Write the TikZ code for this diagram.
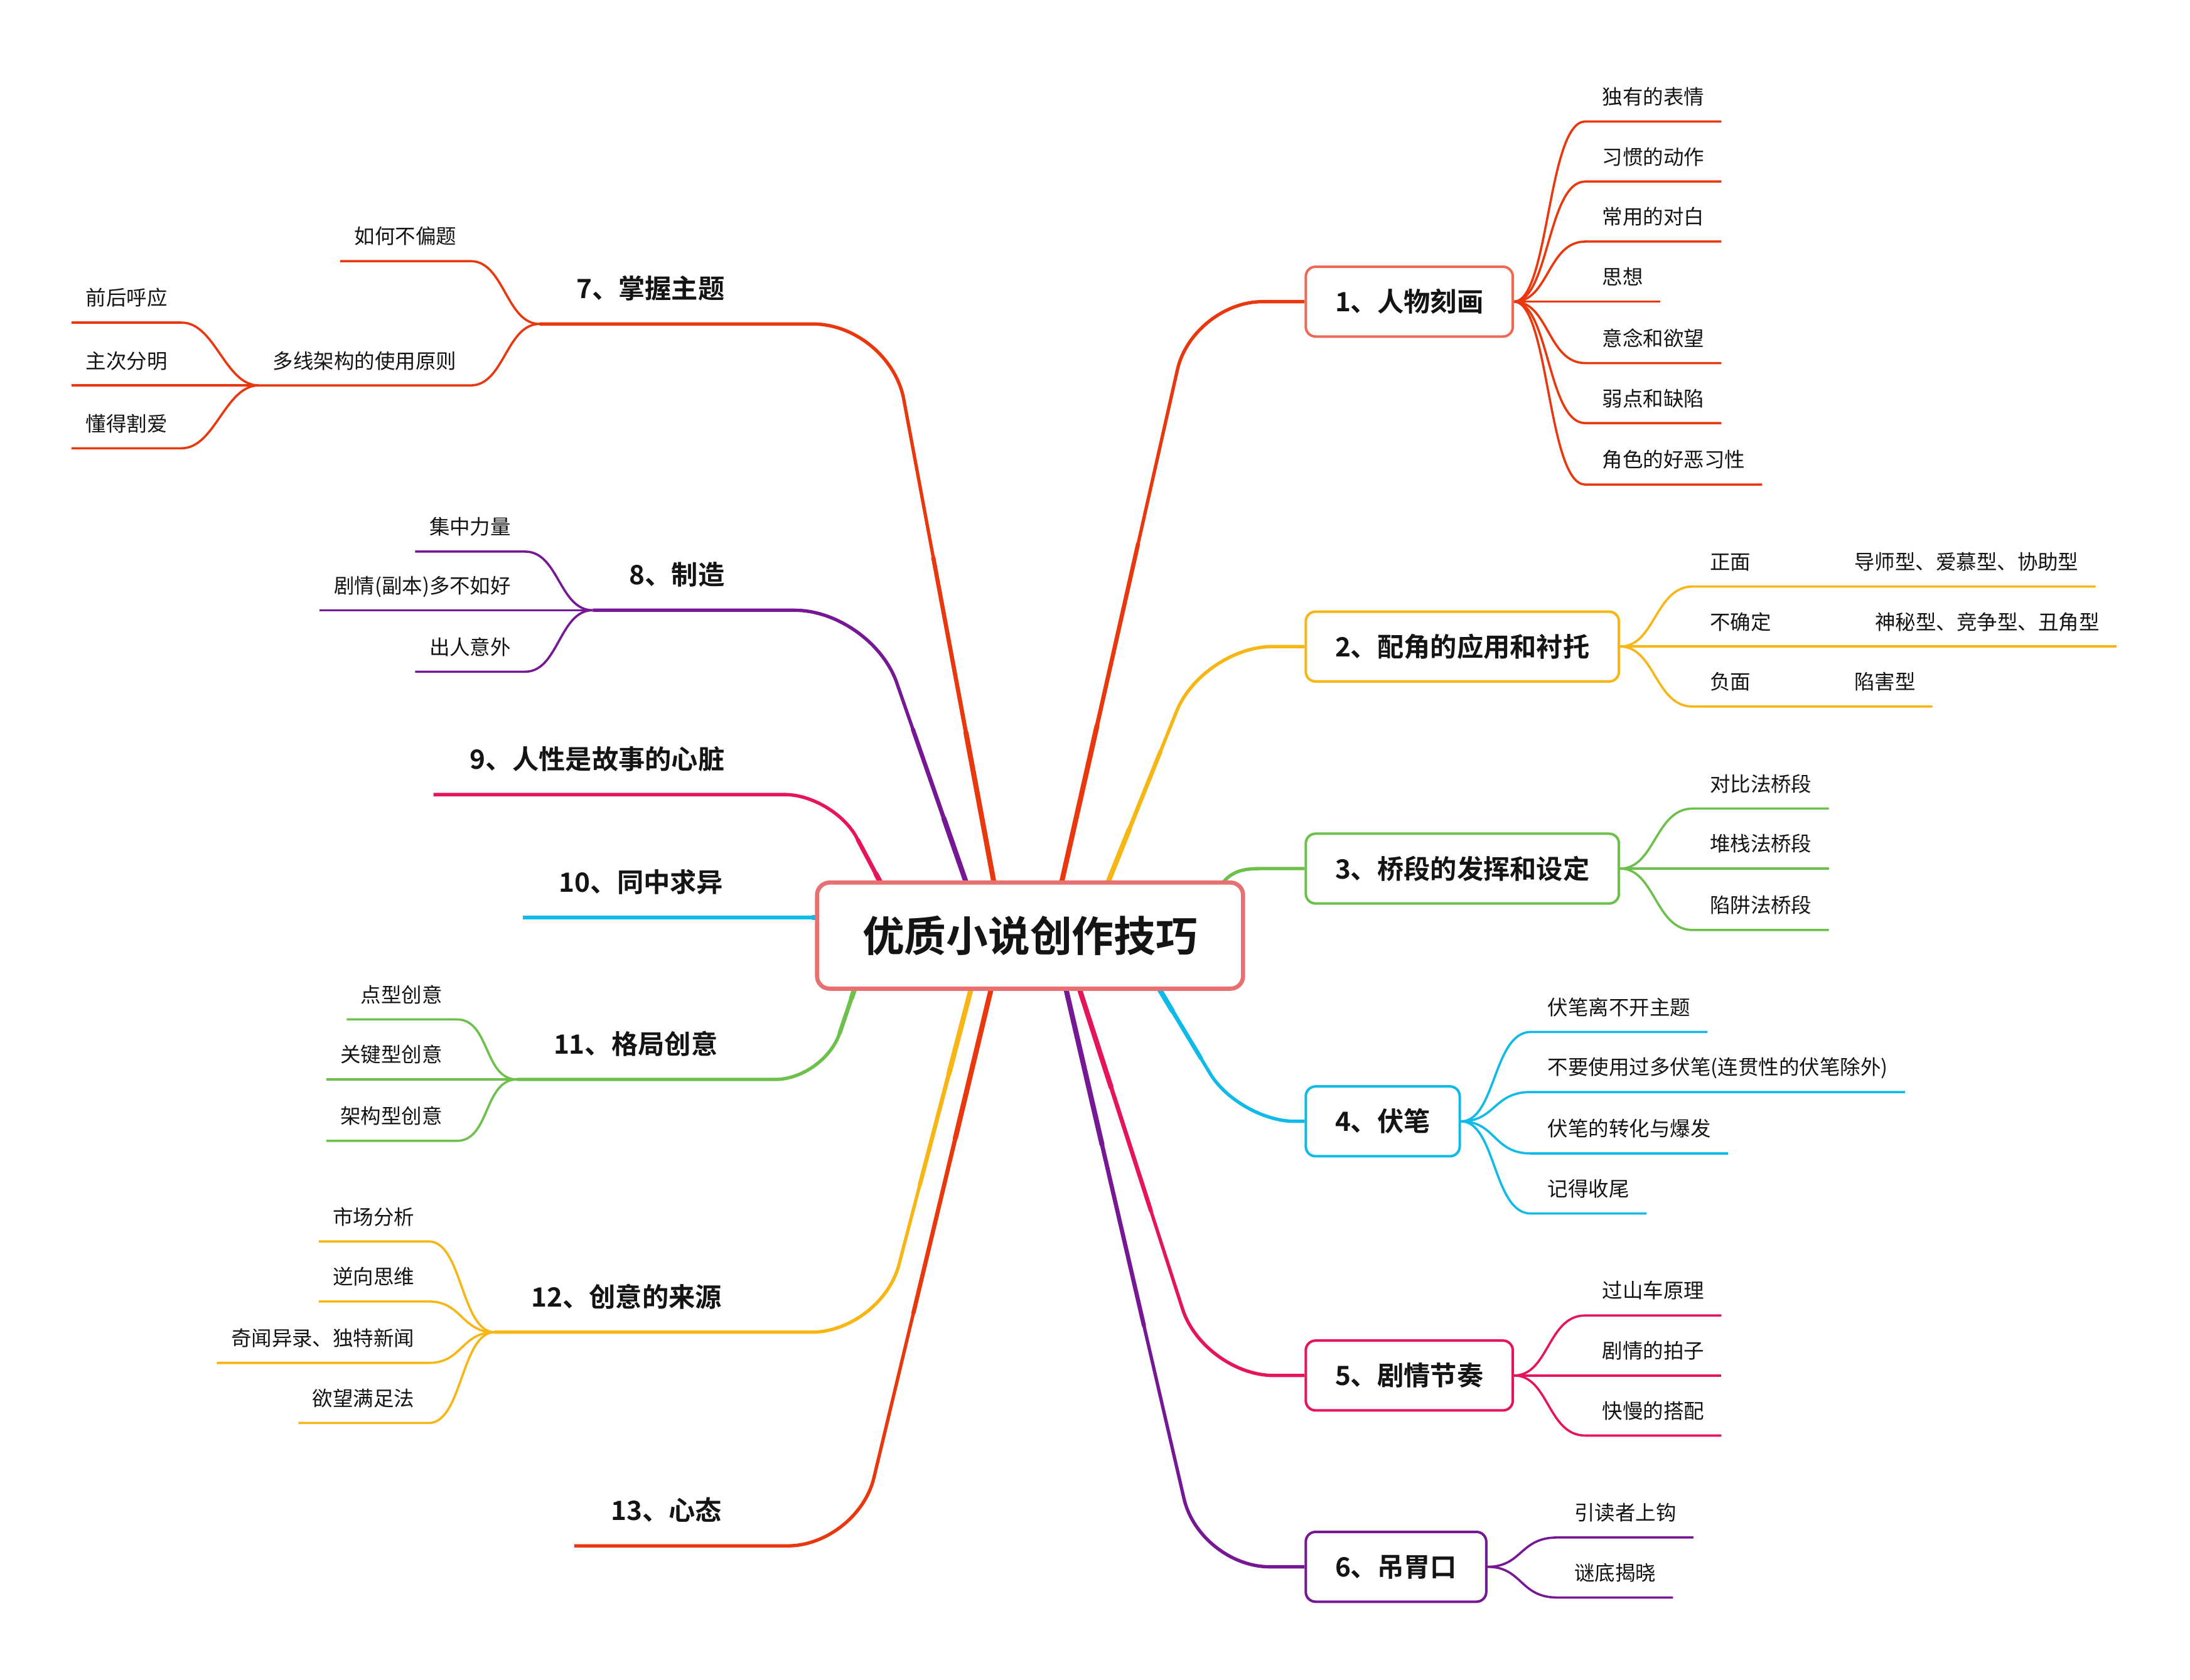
\documentclass[tikz,border=0pt]{standalone}
\usepackage{fontspec}
\setmainfont{Noto Sans CJK SC}[BoldFont={Noto Sans CJK SC Bold}]
\usetikzlibrary{backgrounds,calc}
\definecolor{cred}{RGB}{233,56,14}
\definecolor{credbox}{RGB}{238,104,86}
\definecolor{cyel}{RGB}{247,182,20}
\definecolor{cgrn}{RGB}{108,192,75}
\definecolor{ccyn}{RGB}{14,186,232}
\definecolor{cpnk}{RGB}{230,20,90}
\definecolor{cpur}{RGB}{118,24,150}
\definecolor{ccen}{RGB}{232,112,112}
\definecolor{ctxt}{RGB}{20,20,20}
\tikzset{
  cbox/.style={draw=ccen, line width=3, rounded corners=9, fill=white, minimum width=305, minimum height=76, text=ctxt,
    font=\bfseries\fontsize{30}{30}\selectfont, text height=24.9pt, text depth=2.1pt},
  l1box/.style={draw=#1, line width=1.8, rounded corners=7, fill=white, minimum height=50, inner xsep=21, anchor=west, text=ctxt,
    font=\bfseries\fontsize{19}{19}\selectfont, text height=15.8pt, text depth=1.3pt},
  l1left/.style={inner xsep=26, inner ysep=18, anchor=south east, text depth=0pt, text=ctxt,
    font=\bfseries\fontsize{19}{19}\selectfont},
  leafR/.style={inner xsep=12, inner ysep=12, anchor=south west, text depth=0pt, text=ctxt,
    font=\fontsize{14.6}{16}\selectfont},
  leafL/.style={inner xsep=10, inner ysep=12, anchor=south east, text depth=0pt, text=ctxt,
    font=\fontsize{14.6}{16}\selectfont},
  mainline/.style={draw=#1, line width=2.4, rounded corners=50},
  taperline/.style={draw=#1, line cap=round},
  subline/.style={draw=#1, line width=1.6},
}
% thicker start of a main branch: colour, start, corner
\newcommand\mytaper[3]{%
  \draw[taperline=#1, line width=3.0] (#2) -- ($(#2)!0.6!(#3)$);
  \draw[taperline=#1, line width=3.6] (#2) -- ($(#2)!0.3!(#3)$);
}
\begin{document}
\begin{tikzpicture}[x=1pt,y=-1pt]
\useasboundingbox (0,0) rectangle (1568,1203);
% central topic
\node[cbox] (c) at (737.5,670) {优质小说创作技巧};
% start points of the main branches (under the central box)
\coordinate (s1) at (756,650);
\coordinate (s2) at (786,650);
\coordinate (s3) at (866,650);
\coordinate (s4) at (819,690);
\coordinate (s5) at (767,690);
\coordinate (s6) at (759,690);
\coordinate (s7) at (715,650);
\coordinate (s8) at (698,650);
\coordinate (s9) at (640,650);
\coordinate (s10) at (600,657);
\coordinate (s11) at (618,690);
\coordinate (s12) at (700,690);
\coordinate (s13) at (714,690);
% corners of the main branches
\coordinate (k1) at (854,216);
\coordinate (k2) at (861,463);
\coordinate (k4) at (887,803);
\coordinate (k5) at (862,985);
\coordinate (k6) at (859,1122);
\coordinate (k7) at (637,232);
\coordinate (k8) at (624,437);
\coordinate (k9) at (597,569);
\coordinate (k10) at (540,657);
\coordinate (k11) at (590,773);
\coordinate (k12) at (631,954);
\coordinate (k13) at (614,1107);
% right main topics
\node[l1box=credbox] (b1) at (934,216) {1、人物刻画};
\node[l1box=cyel] (b2) at (934,463) {2、配角的应用和衬托};
\node[l1box=cgrn] (b3) at (934,622) {3、桥段的发挥和设定};
\node[l1box=ccyn] (b4) at (934,803) {4、伏笔};
\node[l1box=cpnk] (b5) at (934,985) {5、剧情节奏};
\node[l1box=cpur] (b6) at (934,1122) {6、吊胃口};
% left main topics
\node[l1left] (n7) at (545,232) {7、掌握主题};
\node[l1left] (n8) at (545,437) {8、制造};
\node[l1left] (n9) at (545,569) {9、人性是故事的心脏};
\node[l1left] (n10) at (544,657) {10、同中求异};
\node[l1left] (n11) at (540,773) {11、格局创意};
\node[l1left] (n12) at (543,954) {12、创意的来源};
\node[l1left] (n13) at (543,1107) {13、心态};
% branch 1 leaves
\node[leafR] (r11) at (1135,87) {独有的表情};
\node[leafR] (r12) at (1135,130) {习惯的动作};
\node[leafR] (r13) at (1135,173) {常用的对白};
\node[leafR] (r14) at (1135,216) {思想};
\node[leafR] (r15) at (1135,260) {意念和欲望};
\node[leafR] (r16) at (1135,303) {弱点和缺陷};
\node[leafR] (r17) at (1135,347) {角色的好恶习性};
% branch 2 leaves
\node[leafR, text width=79, align=left] (r21) at (1212,420) {正面};
\node[leafR] (r21a) at (r21.south east) {导师型、爱慕型、协助型};
\node[leafR, text width=94, align=left] (r22) at (1212,463) {不确定};
\node[leafR] (r22a) at (r22.south east) {神秘型、竞争型、丑角型};
\node[leafR, text width=79, align=left] (r23) at (1212,506) {负面};
\node[leafR] (r23a) at (r23.south east) {陷害型};
% branch 3 leaves
\node[leafR] (r31) at (1212,579) {对比法桥段};
\node[leafR] (r32) at (1212,622) {堆栈法桥段};
\node[leafR] (r33) at (1212,666) {陷阱法桥段};
% branch 4 leaves
\node[leafR] (r41) at (1096,739) {伏笔离不开主题};
\node[leafR] (r42) at (1096,782) {不要使用过多伏笔(连贯性的伏笔除外)};
\node[leafR] (r43) at (1096,826) {伏笔的转化与爆发};
\node[leafR] (r44) at (1096,869) {记得收尾};
% branch 5 leaves
\node[leafR] (r51) at (1135,942) {过山车原理};
\node[leafR] (r52) at (1135,985) {剧情的拍子};
\node[leafR] (r53) at (1135,1028) {快慢的搭配};
% branch 6 leaves
\node[leafR] (r61) at (1115,1101) {引读者上钩};
\node[leafR] (r62) at (1115,1144) {谜底揭晓};
% branch 7 leaves
\node[leafL] (l71) at (337,187) {如何不偏题};
\node[leafL] (l72) at (337,276) {多线架构的使用原则};
\node[leafL] (l721) at (130,231) {前后呼应};
\node[leafL] (l722) at (130,276) {主次分明};
\node[leafL] (l723) at (130,321) {懂得割爱};
% branch 8 leaves
\node[leafL] (l81) at (376,395) {集中力量};
\node[leafL] (l82) at (376,437) {剧情(副本)多不如好};
\node[leafL] (l83) at (376,481) {出人意外};
% branch 11 leaves
\node[leafL] (l111) at (327,730) {点型创意};
\node[leafL] (l112) at (327,773) {关键型创意};
\node[leafL] (l113) at (327,817) {架构型创意};
% branch 12 leaves
\node[leafL] (l121) at (307,889) {市场分析};
\node[leafL] (l122) at (307,932) {逆向思维};
\node[leafL] (l123) at (307,976) {奇闻异录、独特新闻};
\node[leafL] (l124) at (307,1019) {欲望满足法};

\begin{pgfonlayer}{background}
\fill[white] (0,0) rectangle (1568,1203);
% main branches
\draw[mainline=cred] (s1) -- (k1) -- (b1.west);
\mytaper{cred}{s1}{k1}
\draw[mainline=cyel] (s2) -- (k2) -- (b2.west);
\mytaper{cyel}{s2}{k2}
\draw[mainline=cgrn, rounded corners=0] (s3) .. controls (875,628) and (882,622) .. (902,622) -- (b3.west);
\draw[mainline=ccyn, rounded corners=40] (s4) -- (k4) -- (b4.west);
\mytaper{ccyn}{s4}{k4}
\draw[mainline=cpnk] (s5) -- (k5) -- (b5.west);
\mytaper{cpnk}{s5}{k5}
\draw[mainline=cpur] (s6) -- (k6) -- (b6.west);
\mytaper{cpur}{s6}{k6}
\draw[mainline=cred, rounded corners=55] (s7) -- (k7) -- (n7.south west);
\mytaper{cred}{s7}{k7}
\draw[mainline=cpur, rounded corners=55] (s8) -- (k8) -- (n8.south west);
\mytaper{cpur}{s8}{k8}
\draw[mainline=cpnk, rounded corners=35] (s9) -- (k9) -- (n9.south west);
\mytaper{cpnk}{s9}{k9}
\draw[mainline=ccyn] (s10) -- (n10.south west);
\mytaper{ccyn}{s10}{k10}
\draw[mainline=cgrn, rounded corners=35] (s11) -- (k11) -- (n11.south west);
\mytaper{cgrn}{s11}{k11}
\draw[mainline=cyel] (s12) -- (k12) -- (n12.south west);
\mytaper{cyel}{s12}{k12}
\draw[mainline=cred] (s13) -- (k13) -- (n13.south west);
\mytaper{cred}{s13}{k13}
% branch 1
\foreach \n in {r11,r12,r13,r15,r16,r17}
  \draw[subline=cred] (b1.east) .. controls +(25,0) and +(-27,0) .. (\n.south west) -- (\n.south east);
\draw[subline=cred] (b1.east) -- (r14.south east);
% branch 2
\draw[subline=cyel] (b2.east) .. controls +(25,0) and +(-27,0) .. (r21.south west) -- (r21a.south east);
\draw[subline=cyel] (b2.east) -- (r22a.south east);
\draw[subline=cyel] (b2.east) .. controls +(25,0) and +(-27,0) .. (r23.south west) -- (r23a.south east);
% branch 3
\draw[subline=cgrn] (b3.east) .. controls +(25,0) and +(-27,0) .. (r31.south west) -- (r31.south east);
\draw[subline=cgrn] (b3.east) -- (r32.south east);
\draw[subline=cgrn] (b3.east) .. controls +(25,0) and +(-27,0) .. (r33.south west) -- (r33.south east);
% branch 4
\foreach \n in {r41,r42,r43,r44}
  \draw[subline=ccyn] (b4.east) .. controls +(25,0) and +(-27,0) .. (\n.south west) -- (\n.south east);
% branch 5
\draw[subline=cpnk] (b5.east) .. controls +(25,0) and +(-27,0) .. (r51.south west) -- (r51.south east);
\draw[subline=cpnk] (b5.east) -- (r52.south east);
\draw[subline=cpnk] (b5.east) .. controls +(25,0) and +(-27,0) .. (r53.south west) -- (r53.south east);
% branch 6
\foreach \n in {r61,r62}
  \draw[subline=cpur] (b6.east) .. controls +(25,0) and +(-27,0) .. (\n.south west) -- (\n.south east);
% branch 7
\draw[subline=cred] (n7.south west) .. controls +(-24,0) and +(24,0) .. (l71.south east) -- (l71.south west);
\draw[subline=cred] (n7.south west) .. controls +(-24,0) and +(24,0) .. (l72.south east) -- (l72.south west);
\draw[subline=cred] (l72.south west) .. controls +(-24,0) and +(24,0) .. (l721.south east) -- (l721.south west);
\draw[subline=cred] (l72.south west) -- (l722.south west);
\draw[subline=cred] (l72.south west) .. controls +(-24,0) and +(24,0) .. (l723.south east) -- (l723.south west);
% branch 8
\draw[subline=cpur] (n8.south west) .. controls +(-24,0) and +(24,0) .. (l81.south east) -- (l81.south west);
\draw[subline=cpur] (n8.south west) -- (l82.south west);
\draw[subline=cpur] (n8.south west) .. controls +(-24,0) and +(24,0) .. (l83.south east) -- (l83.south west);
% branch 11
\draw[subline=cgrn] (n11.south west) .. controls +(-24,0) and +(24,0) .. (l111.south east) -- (l111.south west);
\draw[subline=cgrn] (n11.south west) -- (l112.south west);
\draw[subline=cgrn] (n11.south west) .. controls +(-24,0) and +(24,0) .. (l113.south east) -- (l113.south west);
% branch 12
\foreach \n in {l121,l122,l123,l124}
  \draw[subline=cyel] (n12.south west) .. controls +(-24,0) and +(24,0) .. (\n.south east) -- (\n.south west);
\end{pgfonlayer}
\end{tikzpicture}
\end{document}
